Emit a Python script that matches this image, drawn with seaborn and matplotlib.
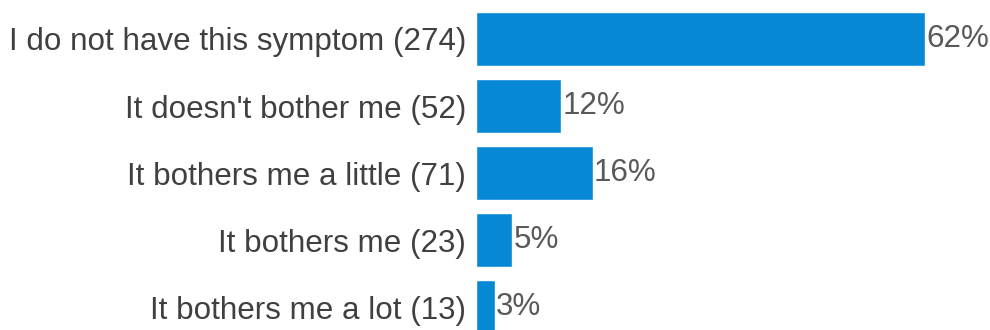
import matplotlib
matplotlib.use("Agg")
import matplotlib.pyplot as plt
import seaborn as sns
import pandas as pd

categories = ["I do not have this symptom (274)", "It doesn't bother me (52)",
              "It bothers me a little (71)", "It bothers me (23)",
              "It bothers me a lot (13)"]
percents = [62.0, 11.7, 16.1, 5.0, 2.6]
pct_labels = ["62%", "12%", "16%", "5%", "3%"]

df = pd.DataFrame({"category": categories, "percent": percents})

sns.set_theme(style="white")
plt.rcParams["font.family"] = ["Liberation Sans", "DejaVu Sans"]

fig = plt.figure(figsize=(9.9, 3.3), dpi=100)
ax = fig.add_axes([0.4808, 0.0, 0.5192, 1.0])

sns.barplot(data=df, x="percent", y="category", color="#0788D4", saturation=1,
            width=0.806, ax=ax)

for i, (v, lab) in enumerate(zip(percents, pct_labels)):
    ax.text(v + 0.2, i, lab, va="center", ha="left", fontsize=22.6, color="#595959")

ax.set_xlim(0, 70.97)
ax.set_ylim(4.343, -0.582)
ax.set_xlabel("")
ax.set_ylabel("")
ax.set_xticks([])
ax.tick_params(axis="y", length=0, pad=7, labelsize=22.6, labelcolor="#404040")
sns.despine(ax=ax, left=True, bottom=True)

fig.savefig("out.png", dpi=100)
